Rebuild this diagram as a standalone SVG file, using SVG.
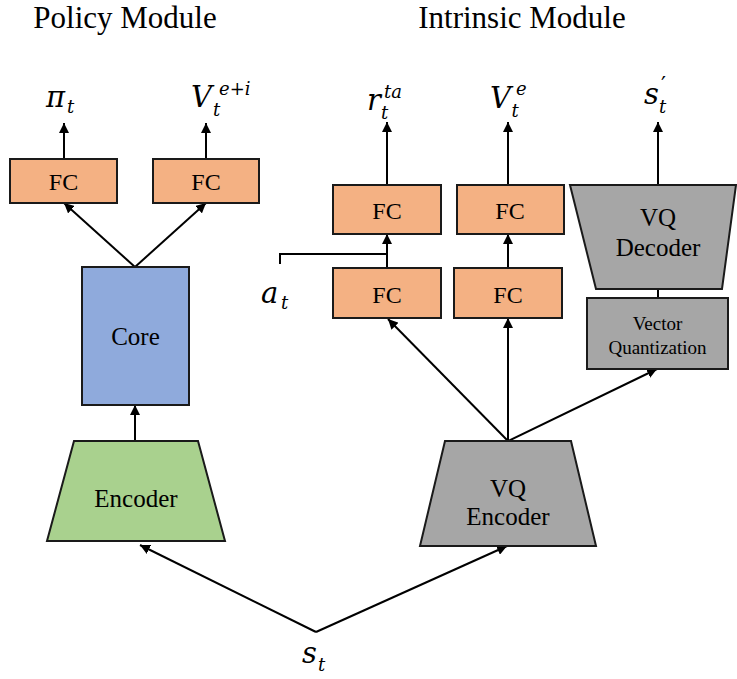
<svg xmlns="http://www.w3.org/2000/svg" width="737" height="679" viewBox="0 0 737 679">
<defs>
<marker id="ah" viewBox="0 0 10 10" refX="10" refY="5" markerWidth="10" markerHeight="10" markerUnits="userSpaceOnUse" orient="auto">
<path d="M0,0 L10,5 L0,10 z" fill="#000"/>
</marker>
</defs>
<style>
.t{font-family:"Liberation Serif","Times New Roman",serif;fill:#000;text-anchor:middle}
.m{font-family:"DejaVu Serif","Liberation Serif",serif;font-style:italic;fill:#000}
.s{font-size:18px}
.fc{fill:#F4B183;stroke:#1a1a1a;stroke-width:2}
.gr{fill:#A6A6A6;stroke:#1a1a1a;stroke-width:2}
.ln{fill:none;stroke:#000;stroke-width:2}
.ar{fill:none;stroke:#000;stroke-width:2;marker-end:url(#ah)}
</style>
<rect width="737" height="679" fill="#fff"/>
<text class="t" x="125" y="28" font-size="31">Policy Module</text>
<text class="t" x="522" y="28" font-size="31">Intrinsic Module</text>

<g id="connectors">
<line class="ar" x1="64" y1="159" x2="64" y2="123"/>
<line class="ar" x1="206" y1="159" x2="206" y2="123"/>
<line class="ar" x1="135" y1="267" x2="64" y2="203"/>
<line class="ar" x1="135" y1="267" x2="206" y2="203"/>
<line class="ar" x1="135" y1="441" x2="135" y2="405"/>
<line class="ar" x1="387" y1="185" x2="387" y2="122"/>
<line class="ar" x1="508" y1="185" x2="508" y2="122"/>
<line class="ar" x1="658" y1="185" x2="658" y2="122"/>
<line class="ar" x1="387" y1="268" x2="387" y2="234"/>
<line class="ar" x1="508" y1="268" x2="508" y2="234"/>
<polyline class="ln" points="280,264 280,254 387,254"/>
<line class="ln" x1="658" y1="289" x2="658" y2="298"/>
<line class="ar" x1="508" y1="441" x2="388" y2="319"/>
<line class="ar" x1="508" y1="441" x2="508" y2="318"/>
<line class="ar" x1="508" y1="441" x2="657" y2="369"/>
<line class="ar" x1="316" y1="632" x2="140" y2="545"/>
<line class="ar" x1="316" y1="632" x2="507" y2="546"/>
</g>

<g id="label-pi">
<text class="m" x="46" y="107" font-size="29">π<tspan class="s" x="67" y="113">t</tspan></text>
</g>
<g id="label-Vei">
<text class="m" x="191" y="107" font-size="29">V<tspan class="s" x="213" y="116">t</tspan><tspan class="s" x="219" y="95">e+i</tspan></text>
</g>
<g id="label-rta">
<text class="m" x="367" y="110" font-size="29">r<tspan class="s" x="381" y="119">t</tspan><tspan class="s" x="384" y="98">ta</tspan></text>
</g>
<g id="label-Ve">
<text class="m" x="490" y="108" font-size="29">V<tspan class="s" x="511.5" y="117">t</tspan><tspan class="s" x="516" y="95">e</tspan></text>
</g>
<g id="label-sprime">
<text class="m" x="644" y="104" font-size="29">s<tspan class="s" x="659" y="113">t</tspan><tspan x="661" y="92" font-size="22" font-style="normal">′</tspan></text>
</g>
<g id="label-at">
<text class="m" x="261" y="303" font-size="29">a<tspan class="s" x="281" y="309">t</tspan></text>
</g>
<g id="label-st">
<text class="m" x="302" y="663" font-size="29">s<tspan class="s" x="318" y="671">t</tspan></text>
</g>

<g id="fc-pi">
<rect class="fc" x="10" y="159" width="107" height="44"/>
<text class="t" x="63.5" y="190" font-size="24">FC</text>
</g>
<g id="fc-v">
<rect class="fc" x="153" y="159" width="106" height="44"/>
<text class="t" x="206" y="190" font-size="24">FC</text>
</g>
<g id="core">
<rect x="82" y="267" width="107" height="138" fill="#8FAADC" stroke="#1a1a1a" stroke-width="2"/>
<text class="t" x="135.5" y="345" font-size="25">Core</text>
</g>
<g id="encoder">
<polygon points="74,441 198,441 225,541 47,541" fill="#A9D18E" stroke="#1a1a1a" stroke-width="2"/>
<text class="t" x="136" y="507" font-size="25">Encoder</text>
</g>
<g id="fc-r-top">
<rect class="fc" x="333" y="185" width="108" height="49"/>
<text class="t" x="387" y="219" font-size="24">FC</text>
</g>
<g id="fc-v-top">
<rect class="fc" x="457" y="185" width="107" height="49"/>
<text class="t" x="510" y="219" font-size="24">FC</text>
</g>
<g id="fc-r-bot">
<rect class="fc" x="333" y="268" width="108" height="50"/>
<text class="t" x="387" y="303" font-size="24">FC</text>
</g>
<g id="fc-v-bot">
<rect class="fc" x="454" y="268" width="108" height="50"/>
<text class="t" x="508" y="303" font-size="24">FC</text>
</g>
<g id="vq-decoder">
<polygon class="gr" points="570,185 736,185 722,289 596,289"/>
<text class="t" x="658" y="226" font-size="25">VQ</text>
<text class="t" x="658" y="256" font-size="25">Decoder</text>
</g>
<g id="vector-quantization">
<rect class="gr" x="587" y="298" width="141" height="71"/>
<text class="t" x="657.5" y="330" font-size="19">Vector</text>
<text class="t" x="657.5" y="354" font-size="19">Quantization</text>
</g>
<g id="vq-encoder">
<polygon class="gr" points="445,441 571,441 596,546 420,546"/>
<text class="t" x="508" y="497" font-size="25">VQ</text>
<text class="t" x="508" y="525" font-size="25">Encoder</text>
</g>
</svg>
